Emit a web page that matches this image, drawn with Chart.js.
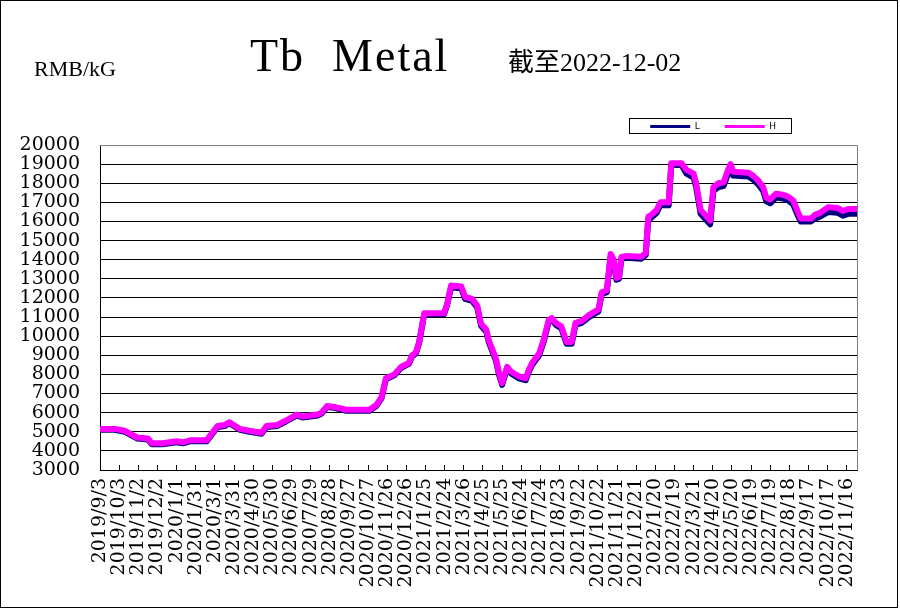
<!DOCTYPE html>
<html>
<head>
<meta charset="utf-8">
<script src="https://cdn.jsdelivr.net/npm/chart.js@4/dist/chart.umd.min.js"></script>
<style>
  html, body { margin: 0; padding: 0; background: #fff; }
  #wrap { position: relative; width: 900px; height: 610px; overflow: hidden; }
  #frame { position: absolute; left: 0; top: 0; width: 896px; height: 606px; border: 1px solid #000; pointer-events: none; }
  .hd { position: absolute; white-space: nowrap; color: #000; line-height: 1; font-family: "Liberation Serif", "Noto Sans CJK SC", serif; }
  #unit { left: 34px; top: 58px; font-size: 22px; }
  #title { left: 250px; top: 33px; font-size: 46px; letter-spacing: 2px; }
  #asof { left: 508px; top: 50px; font-size: 26px; }
</style>
</head>
<body>
<div id="wrap">
  <canvas id="tbChart" width="900" height="610"></canvas>
  <div class="hd" id="unit">RMB/kG</div>
  <div class="hd" id="title">Tb&nbsp;&nbsp;Metal</div>
  <div class="hd" id="asof">截至2022-12-02</div>
  <div id="frame"></div>
</div>
<script>
// x tick labels, one every 30 days
const tickLabels = [
  "2019/9/3", "2019/10/3", "2019/11/2", "2019/12/2", "2020/1/1", "2020/1/31",
  "2020/3/1", "2020/3/31", "2020/4/30", "2020/5/30", "2020/6/29", "2020/7/29",
  "2020/8/28", "2020/9/27", "2020/10/27", "2020/11/26", "2020/12/26", "2021/1/25",
  "2021/2/24", "2021/3/26", "2021/4/25", "2021/5/25", "2021/6/24", "2021/7/24",
  "2021/8/23", "2021/9/22", "2021/10/22", "2021/11/21", "2021/12/21", "2022/1/20",
  "2022/2/19", "2022/3/21", "2022/4/20", "2022/5/20", "2022/6/19", "2022/7/19",
  "2022/8/18", "2022/9/17", "2022/10/17", "2022/11/16"
];
const lastDate = "2022/12/2";

// days since 2019/9/3 where the price changes
const days = [
  0, 23, 39, 58, 75, 81, 98, 120, 130, 141, 167, 175, 184, 195, 203, 219, 234, 253,
  261, 277, 292, 308, 317, 341, 347, 356, 367, 386, 422, 433, 441, 448, 461, 472,
  484, 489, 495, 500, 508, 539, 544, 550, 566, 572, 583, 591, 597, 605, 609, 620,
  625, 630, 633, 638, 644, 656, 667, 672, 677, 688, 695, 703, 708, 714, 723, 731,
  739, 745, 755, 766, 781, 786, 794, 800, 805, 809, 813, 817, 825, 848, 855, 859,
  864, 872, 878, 891, 895, 911, 919, 930, 934, 941, 948, 956, 961, 969, 977, 984,
  988, 992, 1016, 1023, 1031, 1039, 1044, 1050, 1059, 1070, 1078, 1086, 1094, 1098,
  1114, 1120, 1128, 1141, 1156, 1164, 1172, 1186
];

const lowPrice = [
  5100, 5100, 5000, 4650, 4600, 4350, 4350, 4450, 4400, 4500, 4500, 4850, 5250, 5300, 5450, 5100, 5000, 4900,
  5250, 5300, 5550, 5850, 5750, 5850, 5950, 6300, 6250, 6100, 6100, 6350, 6750, 7750, 7950, 8350,
  8550, 8950, 9100, 9650, 11150, 11150, 11650, 12550, 12500, 11950, 11850, 11500, 10550, 10250, 9700, 8750,
  8000, 7450, 7800, 8300, 8050, 7800, 7700, 8150, 8500, 9000, 9700, 10750, 10850, 10600, 10400, 9600,
  9600, 10600, 10700, 11000, 11300, 12200, 12300, 14150, 13850, 12950, 13000, 14050, 14100, 14050, 14250, 16100,
  16200, 16450, 16850, 16850, 18950, 18950, 18500, 18300, 17800, 16400, 16150, 15850, 17600, 17800, 17850, 18500,
  18750, 18400, 18350, 18200, 17950, 17600, 17050, 16950, 17250, 17200, 17100, 16900, 16250, 16000,
  16000, 16150, 16250, 16500, 16450, 16300, 16400, 16400
];

const highPrice = [
  5150, 5150, 5050, 4700, 4650, 4400, 4400, 4500, 4450, 4550, 4550, 4900, 5300, 5350, 5500, 5150, 5050, 4950,
  5300, 5350, 5600, 5900, 5800, 5900, 6000, 6350, 6300, 6150, 6150, 6400, 6800, 7800, 8000, 8400,
  8600, 9000, 9150, 9700, 11200, 11200, 11700, 12650, 12600, 12050, 11950, 11600, 10650, 10350, 9800, 8850,
  8100, 7550, 7900, 8400, 8150, 7900, 7800, 8250, 8600, 9100, 9800, 10850, 10950, 10700, 10500, 9700,
  9700, 10700, 10800, 11100, 11400, 12300, 12400, 14300, 14000, 13050, 13100, 14150, 14200, 14150, 14350, 16250,
  16350, 16600, 17000, 17000, 19050, 19050, 18700, 18500, 18000, 16600, 16350, 16050, 17800, 18000, 18050, 18700,
  19000, 18600, 18550, 18400, 18150, 17800, 17250, 17150, 17450, 17400, 17300, 17100, 16450, 16150,
  16150, 16350, 16450, 16750, 16700, 16550, 16650, 16650
];

function dayOf(s) {
  const [y, m, d] = s.split("/").map(Number);
  return Math.round((Date.UTC(y, m - 1, d) - Date.UTC(2019, 8, 3)) / 86400000);
}
const tickDays = tickLabels.map(dayOf);

const chartFrame = {
  id: "chartFrame",
  afterLayout(chart) {
    // legend sits above the right part of the plot, a little higher than its slot
    const lg = chart.legend;
    lg.right -= 56;
    lg.top -= 4;
    lg.bottom -= 4;
  },
  beforeDatasetsDraw(chart) {
    const { ctx, chartArea: a } = chart;
    ctx.save();
    ctx.strokeStyle = "#808080";
    ctx.lineWidth = 1;
    ctx.beginPath();
    ctx.moveTo(a.left, Math.round(a.top) + 0.5);
    ctx.lineTo(Math.round(a.right) + 0.5, Math.round(a.top) + 0.5);
    ctx.lineTo(Math.round(a.right) + 0.5, a.bottom);
    ctx.stroke();
    ctx.restore();
  },
  afterDraw(chart) {
    const { ctx } = chart;
    const hb = chart.legend.legendHitBoxes;
    if (!hb || !hb.length) return;
    const last = hb[hb.length - 1];
    const l = Math.round(hb[0].left - 21) + 0.5;
    const r = Math.round(last.left + last.width + 15) + 0.5;
    const t = Math.round(hb[0].top - 4) + 0.5;
    const b = Math.round(hb[0].top + hb[0].height + 2) + 0.5;
    ctx.save();
    ctx.strokeStyle = "#000";
    ctx.lineWidth = 1;
    ctx.strokeRect(l, t, r - l, b - t);
    ctx.restore();
  }
};

const ctx = document.getElementById("tbChart").getContext("2d");

new Chart(ctx, {
  type: "line",
  data: {
    datasets: [
      {
        label: "L",
        data: days.map((d, i) => ({ x: d, y: lowPrice[i] })),
        borderColor: "#000080",
        backgroundColor: "#000080",
        borderWidth: 6,
        pointRadius: 0,
        tension: 0,
        borderJoinStyle: "round",
        borderCapStyle: "round",
        order: 2
      },
      {
        label: "H",
        data: days.map((d, i) => ({ x: d, y: highPrice[i] })),
        borderColor: "#ff00ff",
        backgroundColor: "#ff00ff",
        borderWidth: 6,
        pointRadius: 0,
        tension: 0,
        borderJoinStyle: "round",
        borderCapStyle: "round",
        order: 1
      }
    ]
  },
  options: {
    responsive: false,
    animation: false,
    devicePixelRatio: 1,
    layout: { padding: { top: 101, right: 43, left: 0, bottom: 0 } },
    plugins: {
      tooltip: { enabled: false },
      legend: {
        position: "top",
        align: "end",
        labels: {
          boxWidth: 40,
          boxHeight: 3,
          padding: 25,
          color: "#000",
          font: { size: 9, family: "DejaVu Sans" },
          sort: (a, b) => a.datasetIndex - b.datasetIndex,
          generateLabels: (chart) =>
            Chart.defaults.plugins.legend.labels.generateLabels(chart).map((item) => ({
              ...item,
              fillStyle: item.strokeStyle,
              lineWidth: 0
            }))
        }
      }
    },
    scales: {
      x: {
        type: "linear",
        min: 0,
        max: dayOf(lastDate),
        afterFit: (scale) => { scale.height = 140; },
        afterBuildTicks: (scale) => { scale.ticks = tickDays.map((v) => ({ value: v })); },
        border: { color: "#000", width: 1 },
        grid: { drawOnChartArea: false, tickLength: -5, color: "#000" },
        ticks: {
          autoSkip: false,
          minRotation: 90,
          maxRotation: 90,
          padding: 13,
          color: "#000",
          font: { family: "DejaVu Serif", size: 19 },
          callback: (value, index) => tickLabels[index]
        }
      },
      y: {
        min: 3000,
        max: 20000,
        afterFit: (scale) => { scale.width = 100; },
        border: { color: "#000", width: 1 },
        grid: {
          drawTicks: false,
          color: (c) => (c.tick && c.tick.value === 20000 ? "#808080" : "#000")
        },
        ticks: {
          stepSize: 1000,
          autoSkip: false,
          padding: 20,
          color: "#000",
          font: { family: "DejaVu Serif", size: 19 },
          callback: (v) => String(v)
        }
      }
    }
  },
  plugins: [chartFrame]
});
</script>
</body>
</html>
